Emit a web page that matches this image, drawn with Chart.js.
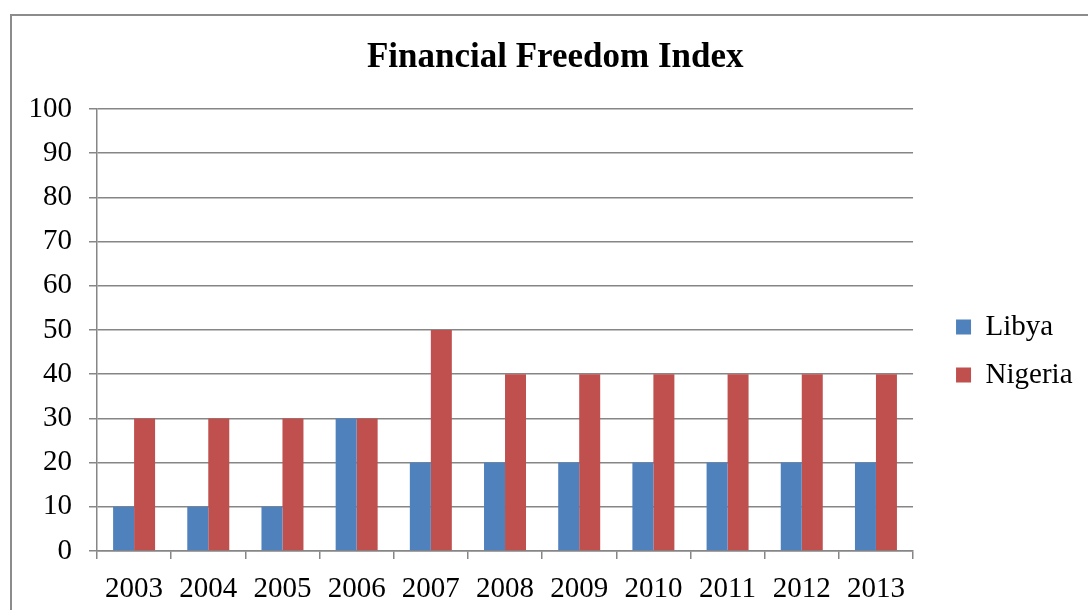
<!DOCTYPE html>
<html>
<head>
<meta charset="utf-8">
<script src="https://cdn.jsdelivr.net/npm/chart.js@4"></script>
<style>
  html, body { margin: 0; padding: 0; background: #fff; overflow: hidden; }
  #frame { position: absolute; left: 10px; top: 14px; width: 1086px; height: 600px; border: 2px solid #8c8c8c; }
</style>
</head>
<body>
<div id="frame"><canvas id="grafico" width="1086" height="600"></canvas></div>
<script>
const years = ['2003', '2004', '2005', '2006', '2007', '2008', '2009', '2010', '2011', '2012', '2013'];
const libya = [10, 10, 10, 30, 20, 20, 20, 20, 20, 20, 20];
const nigeria = [30, 30, 30, 30, 50, 40, 40, 40, 40, 40, 40];
const yTicks = [0, 10, 20, 30, 40, 50, 60, 70, 80, 90, 100];

const serif = "'Liberation Serif', 'Times New Roman', serif";
const gris = '#868686';

// separa la leyenda del área del gráfico, la baja un poco y centra el título en todo el marco
const ajusteLeyenda = {
    id: 'ajusteLeyenda',
    afterLayout(chart) {
        const lg = chart.legend;
        lg.left += 24; lg.right += 24;
        lg.top += 21; lg.bottom += 21;
        const t = chart.titleBlock;
        if (t) { t.left += 20; t.right += 20; }
    }
};

const ctx = document.getElementById('grafico').getContext('2d');
new Chart(ctx, {
    type: 'bar',
    data: {
        labels: years,
        datasets: [
            { label: 'Libya', data: libya, backgroundColor: '#4f81bd' },
            { label: 'Nigeria', data: nigeria, backgroundColor: '#c0504d' }
        ]
    },
    options: {
        responsive: false,
        animation: false,
        categoryPercentage: 0.566,
        barPercentage: 1,
        layout: { padding: { left: 0, right: 39.5, top: 0, bottom: 0 } },
        plugins: {
            title: {
                display: true,
                text: 'Financial Freedom Index',
                color: '#000',
                font: { family: serif, size: 35, weight: 'bold' },
                padding: { top: 21, bottom: 30 }
            },
            legend: {
                position: 'right',
                fullSize: false,
                labels: {
                    color: '#000',
                    font: { family: serif, size: 29 },
                    boxWidth: 15,
                    boxHeight: 15,
                    padding: 19
                }
            },
            tooltip: { enabled: false }
        },
        scales: {
            x: {
                grid: { offset: true, drawOnChartArea: false, color: gris, lineWidth: 1.5, tickLength: 8 },
                border: { color: gris, width: 1.5 },
                ticks: { color: '#000', font: { family: serif, size: 29 }, padding: 13, maxRotation: 0 },
                afterFit(s) { s.height = 65; }
            },
            y: {
                min: 0,
                max: 100,
                afterBuildTicks(s) { s.ticks = yTicks.map(v => ({ value: v })); },
                grid: { color: gris, lineWidth: 1.5, tickLength: 8 },
                border: { color: gris, width: 1.5 },
                ticks: { color: '#000', font: { family: serif, size: 29 }, padding: 17 },
                afterFit(s) { s.width = 85; }
            }
        }
    },
    plugins: [ajusteLeyenda]
});
</script>
</body>
</html>
